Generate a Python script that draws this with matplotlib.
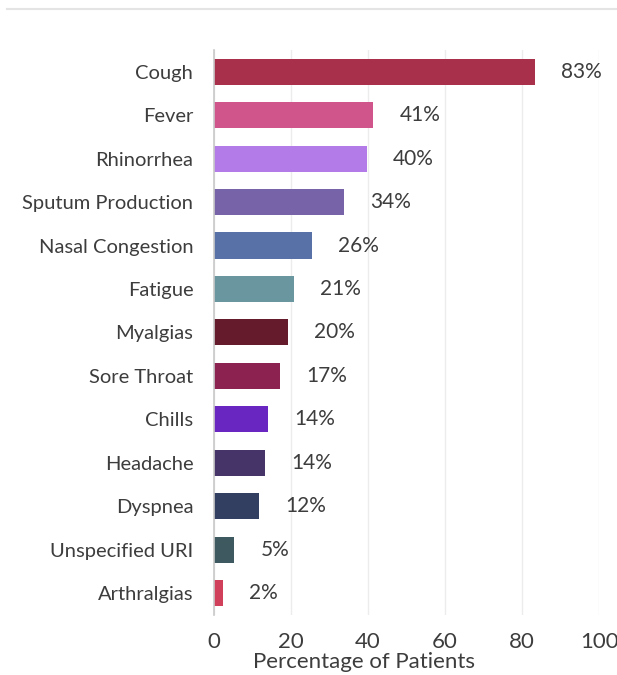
import matplotlib
matplotlib.use("Agg")
import matplotlib.pyplot as plt
from matplotlib.lines import Line2D

plt.rcParams['font.family'] = ['Lato', 'DejaVu Sans']

# data
symptoms = ["Cough", "Fever", "Rhinorrhea", "Sputum Production", "Nasal Congestion",
            "Fatigue", "Myalgias", "Sore Throat", "Chills", "Headache", "Dyspnea",
            "Unspecified URI", "Arthralgias"]
bar_values = [83.4, 41.3, 39.7, 33.8, 25.5, 20.8, 19.2, 17.1, 14.0, 13.2, 11.7, 5.2, 2.3]
value_labels = ["83%", "41%", "40%", "34%", "26%", "21%", "20%", "17%", "14%", "14%",
                "12%", "5%", "2%"]
colors = ["#A8304A", "#D0558A", "#B37BE8", "#7763A8", "#5872A8", "#6A96A0", "#651B2C",
          "#8B2250", "#6A26C0", "#463468", "#333F60", "#3E5A60", "#D0405A"]

text_color = "#3d3d3d"

fig = plt.figure(figsize=(6.17, 6.75), dpi=100)
ax = fig.add_axes([0.347, 0.089, 0.624, 0.837])

y = list(range(len(symptoms)))
ax.barh(y, bar_values, height=0.6, color=colors)

for yi, v, lab in zip(y, bar_values, value_labels):
    ax.text(v + 6.8, yi, lab, va="center", ha="left", fontsize=15, color=text_color)

ax.set_ylim(len(symptoms) - 0.5, -0.5)
ax.set_xlim(0, 100)
ax.set_yticks(y)
ax.set_yticklabels(symptoms, fontsize=14.5, color=text_color)
ax.set_xticks([0, 20, 40, 60, 80, 100])
ax.tick_params(axis="x", labelsize=16, colors=text_color, length=0, pad=12)
ax.tick_params(axis="y", length=0, pad=15)
ax.set_xlabel("Percentage of Patients", fontsize=16, color=text_color)
ax.xaxis.set_label_coords(0.39, -0.066)

ax.grid(axis="x", color="#ececec", linewidth=1)
ax.set_axisbelow(True)
for s in ["top", "right", "bottom"]:
    ax.spines[s].set_visible(False)
ax.spines["left"].set_color("#c8c8c8")
ax.spines["left"].set_linewidth(1.2)

# thin separator line at the top of the image
fig.add_artist(Line2D([0.012, 1.0], [0.987, 0.987], color="#e4e4e4", linewidth=1.5))

fig.savefig("out.png", dpi=100, facecolor="white")
